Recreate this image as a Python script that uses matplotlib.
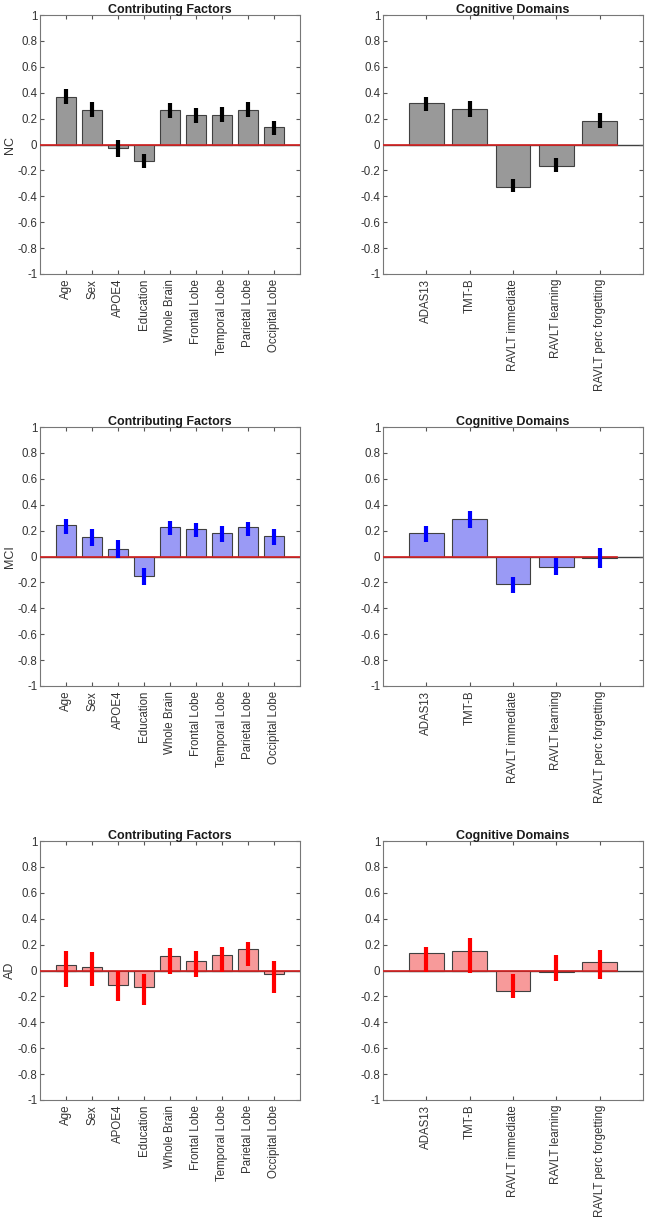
import numpy as np
import matplotlib.pyplot as plt

plt.rcParams['font.family'] = ['Liberation Sans', 'DejaVu Sans']

factors = ['Age', 'Sex', 'APOE4', 'Education', 'Whole Brain', 'Frontal Lobe',
           'Temporal Lobe', 'Parietal Lobe', 'Occipital Lobe']
domains = ['ADAS13', 'TMT-B', 'RAVLT immediate', 'RAVLT learning',
           'RAVLT perc forgetting']
groups = ['NC', 'MCI', 'AD']

# bar heights, error bar lower / upper ends
nc_fac = [0.37, 0.27, -0.03, -0.13, 0.265, 0.225, 0.23, 0.27, 0.135]
nc_fac_lo = [0.315, 0.21, -0.10, -0.185, 0.205, 0.165, 0.17, 0.21, 0.075]
nc_fac_hi = [0.425, 0.325, 0.035, -0.075, 0.32, 0.28, 0.29, 0.325, 0.185]
nc_dom = [0.32, 0.275, -0.33, -0.165, 0.185]
nc_dom_lo = [0.26, 0.215, -0.37, -0.21, 0.13]
nc_dom_hi = [0.365, 0.335, -0.27, -0.105, 0.24]

mci_fac = [0.245, 0.15, 0.055, -0.15, 0.23, 0.215, 0.185, 0.23, 0.16]
mci_fac_lo = [0.17, 0.08, -0.01, -0.22, 0.165, 0.15, 0.115, 0.16, 0.09]
mci_fac_hi = [0.29, 0.215, 0.125, -0.09, 0.275, 0.26, 0.235, 0.27, 0.21]
mci_dom = [0.18, 0.29, -0.215, -0.08, -0.01]
mci_dom_lo = [0.115, 0.22, -0.285, -0.145, -0.085]
mci_dom_hi = [0.235, 0.35, -0.155, -0.015, 0.065]

ad_fac = [0.04, 0.03, -0.115, -0.13, 0.11, 0.075, 0.12, 0.165, -0.025]
ad_fac_lo = [-0.125, -0.12, -0.235, -0.265, -0.025, -0.05, -0.01, 0.035, -0.175]
ad_fac_hi = [0.15, 0.14, 0.0, -0.03, 0.17, 0.15, 0.185, 0.22, 0.075]
ad_dom = [0.135, 0.15, -0.155, -0.01, 0.068]
ad_dom_lo = [-0.01, -0.02, -0.21, -0.08, -0.065]
ad_dom_hi = [0.185, 0.25, -0.025, 0.12, 0.158]

rows = [
    (nc_fac, nc_fac_lo, nc_fac_hi, nc_dom, nc_dom_lo, nc_dom_hi),
    (mci_fac, mci_fac_lo, mci_fac_hi, mci_dom, mci_dom_lo, mci_dom_hi),
    (ad_fac, ad_fac_lo, ad_fac_hi, ad_dom, ad_dom_lo, ad_dom_hi),
]
bar_colors = ['#999999', '#9a9af5', '#f79a9a']
err_colors = ['black', '#0000ff', '#ff0000']

W, H = 645, 1219
fig = plt.figure(figsize=(W / 100, H / 100), dpi=100)

row_tops = [15, 427, 841]
row_h = 259
col_left = [40, 383]
col_w = 260

def draw_panel(ax, labels, vals, lo, hi, bc, ec, title, red_end):
    n = len(labels)
    x = np.arange(1, n + 1)
    ax.bar(x, vals, width=0.8, color=bc, edgecolor='#404040', linewidth=0.8, zorder=2)
    ax.axhline(0, color='#404040', lw=1.0, zorder=1)
    ax.plot([0, red_end], [0, 0], color='#d62020', lw=1.2, zorder=3)
    ax.vlines(x, lo, hi, color=ec, lw=3, zorder=4)
    ax.set_xlim(0, n + 1)
    ax.set_ylim(-1, 1)
    ax.set_yticks(np.round(np.arange(-1, 1.01, 0.2), 1))
    ax.set_yticklabels(['-1', '-0.8', '-0.6', '-0.4', '-0.2', '0', '0.2', '0.4',
                        '0.6', '0.8', '1'])
    ax.set_xticks(x)
    ax.set_xticklabels(labels, rotation=90, fontsize=8.3, color='#333333')
    ax.tick_params(axis='both', direction='in', length=3, color='#555555',
                   top=True, right=True, labelcolor='#333333')
    ax.tick_params(axis='y', labelsize=8.3, pad=2)
    for s in ax.spines.values():
        s.set_color('#777777')
        s.set_linewidth(0.8)
    ax.set_title(title, fontsize=9, fontweight='bold', pad=1.5, color='#1a1a1a')

for r, data in enumerate(rows):
    fac, flo, fhi, dom, dlo, dhi = data
    top = row_tops[r]
    for c in range(2):
        ax = fig.add_axes([col_left[c] / W, 1 - (top + row_h) / H, col_w / W, row_h / H])
        if c == 0:
            draw_panel(ax, factors, fac, flo, fhi, bar_colors[r], err_colors[r],
                       'Contributing Factors', len(factors) + 1)
            ax.set_ylabel(groups[r], fontsize=9, color='#333333', labelpad=1)
        else:
            draw_panel(ax, domains, dom, dlo, dhi, bar_colors[r], err_colors[r],
                       'Cognitive Domains', len(domains) + 0.4)

fig.savefig('out.png', dpi=100)
